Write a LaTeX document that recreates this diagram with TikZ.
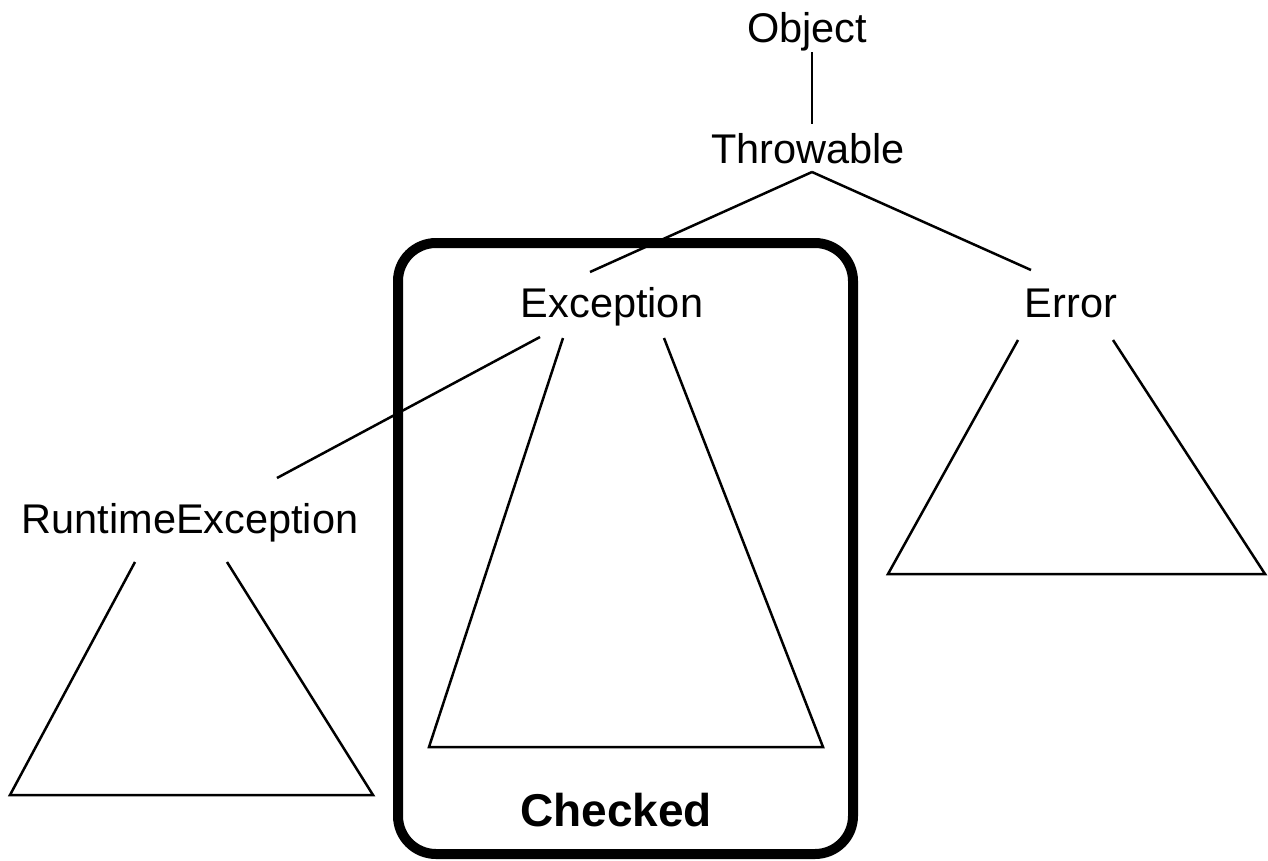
\documentclass[tikz,border=0pt]{standalone}
\usepackage{fontspec}
\setmainfont{Liberation Sans}
\begin{document}
\begin{tikzpicture}[x=1pt,y=-1pt,
  lbl/.style={anchor=base,inner sep=0pt,font=\fontsize{41.5}{48}\selectfont},
  boldlbl/.style={anchor=base,inner sep=0pt,font=\fontsize{46}{52}\selectfont\bfseries},
  edge/.style={line width=2.5pt,line cap=butt},
  subtree/.style={line width=2.5pt,line join=miter},
  group/.style={line width=10pt,rounded corners=38pt}]
\useasboundingbox (0,0) rectangle (1268,860);
\fill[white] (0,0) rectangle (1268,860);

% class names
\node[lbl] (obj) at (807,42) {Object};
\node[lbl] (thr) at (808,163) {Throwable};
\node[lbl] (exc) at (612,317) {Exception};
\node[lbl] (err) at (1071,317) {Error};
\node[lbl] (rte) at (190,533) {RuntimeException};

% connector end points
\coordinate (objB) at (812,52);
\coordinate (thrT) at (812,124);
\coordinate (thrB) at (812,172);
\coordinate (excT) at (590,272);
\coordinate (errT) at (1031,270);
\coordinate (excL) at (540,337);
\coordinate (rteT) at (277,478);

% inheritance connectors
\draw[edge] (objB) -- (thrT);
\draw[edge] (thrB) -- (excT);
\draw[edge] (thrB) -- (errT);
\draw[edge] (excL) -- (rteT);

% subclass hierarchies (open-topped triangles)
\draw[subtree] (563,338) -- (429,747) -- (823,747) -- (664,338);
\draw[subtree] (1018,340) -- (888,574) -- (1265,574) -- (1113,340);
\draw[subtree] (135,562) -- (10,795) -- (373,795) -- (227,562);

% checked exceptions group
\draw[group] (398,243) rectangle (853,854);
\node[boldlbl] (chk) at (616,826) {Checked};
\end{tikzpicture}
\end{document}
